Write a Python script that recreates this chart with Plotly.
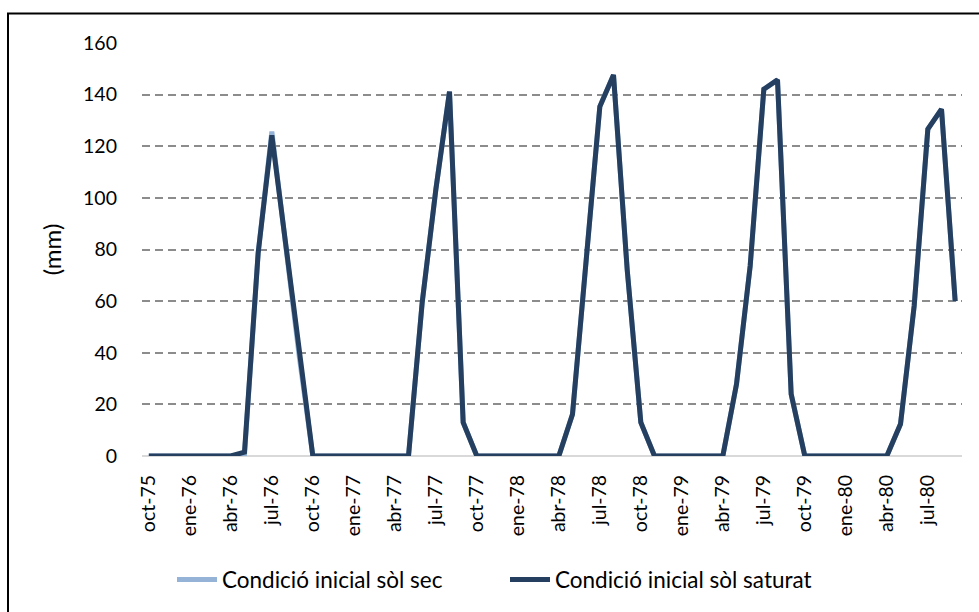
import plotly.graph_objects as go

# Monthly series, hydrological years Oct-1975 .. Sep-1980
months = [
    "oct-75", "nov-75", "dic-75", "ene-76", "feb-76", "mar-76", "abr-76", "may-76", "jun-76", "jul-76", "ago-76", "sep-76",
    "oct-76", "nov-76", "dic-76", "ene-77", "feb-77", "mar-77", "abr-77", "may-77", "jun-77", "jul-77", "ago-77", "sep-77",
    "oct-77", "nov-77", "dic-77", "ene-78", "feb-78", "mar-78", "abr-78", "may-78", "jun-78", "jul-78", "ago-78", "sep-78",
    "oct-78", "nov-78", "dic-78", "ene-79", "feb-79", "mar-79", "abr-79", "may-79", "jun-79", "jul-79", "ago-79", "sep-79",
    "oct-79", "nov-79", "dic-79", "ene-80", "feb-80", "mar-80", "abr-80", "may-80", "jun-80", "jul-80", "ago-80", "sep-80",
]

# Initial condition: dry soil (mm)
sol_sec = [
    0, 0, 0, 0, 0, 0, 0, 0.5, 78.7, 125.7, 82.6, 38.8,
    0, 0, 0, 0, 0, 0, 0, 0, 59.4, 103.2, 141.2, 13.0,
    0, 0, 0, 0, 0, 0, 0, 16.2, 77.0, 135.4, 147.6, 72.3,
    13.0, 0, 0, 0, 0, 0, 0, 27.8, 73.6, 142.1, 145.7, 24.0,
    0, 0, 0, 0, 0, 0, 0, 12.4, 58.1, 126.6, 134.4, 60.0,
]

# Initial condition: saturated soil (mm)
sol_saturat = [
    0, 0, 0, 0, 0, 0, 0, 1.5, 78.7, 124.2, 82.6, 38.8,
    0, 0, 0, 0, 0, 0, 0, 0, 59.4, 103.2, 141.2, 13.0,
    0, 0, 0, 0, 0, 0, 0, 16.2, 77.0, 135.4, 147.6, 72.3,
    13.0, 0, 0, 0, 0, 0, 0, 27.8, 73.6, 142.1, 145.7, 24.0,
    0, 0, 0, 0, 0, 0, 0, 12.4, 58.1, 126.6, 134.4, 60.0,
]

tick_labels = months[::3]
y_ticks = [0, 20, 40, 60, 80, 100, 120, 140, 160]

FONT = "Lato"

fig = go.Figure()
fig.add_trace(go.Scatter(
    x=months, y=sol_sec, mode="lines", name="Condició inicial sòl sec",
    line=dict(color="#95B3D7", width=5),
))
fig.add_trace(go.Scatter(
    x=months, y=sol_saturat, mode="lines", name="Condició inicial sòl saturat",
    line=dict(color="#243F60", width=5),
))

fig.update_layout(
    width=979, height=612,
    margin=dict(l=142, r=17, t=43, b=155),
    paper_bgcolor="white", plot_bgcolor="white",
    font=dict(family=FONT, size=19, color="black"),
    showlegend=True,
    legend=dict(
        orientation="h", x=(172 - 142) / 820, xanchor="left", y=-0.297, yanchor="middle",
        font=dict(family=FONT, size=22.5, color="black"),
        itemwidth=40, traceorder="normal", entrywidth=278,
    ),
    xaxis=dict(
        type="category", categoryorder="array", categoryarray=months,
        range=[-0.5, len(months) - 0.5],
        tickmode="array", tickvals=tick_labels, ticktext=tick_labels,
        tickangle=-90, ticks="", showgrid=False,
        showline=False, zeroline=False,
        ticklabelstandoff=14,
        tickfont=dict(family=FONT, size=19.5),
    ),
    yaxis=dict(
        range=[0, 160], tickvals=y_ticks, ticks="",
        showgrid=True, gridcolor="#8C8C8C", gridwidth=1.5, griddash="8px,5px",
        zeroline=True, zerolinecolor="#D9D9D9", zerolinewidth=2,
        showline=False,
        ticklabelstandoff=24,
        tickfont=dict(family=FONT, size=19.5),
        title=dict(text="(mm)", standoff=14, font=dict(family=FONT, size=24)),
    ),
    shapes=[dict(
        type="rect", xref="paper", yref="paper",
        x0=(8 - 142) / 820, x1=(990 - 142) / 820,
        y0=(457 - 630) / 414, y1=(457 - 13.5) / 414,
        line=dict(color="black", width=2), fillcolor="rgba(0,0,0,0)", layer="below",
    )],
)

fig.write_html("out.html")
